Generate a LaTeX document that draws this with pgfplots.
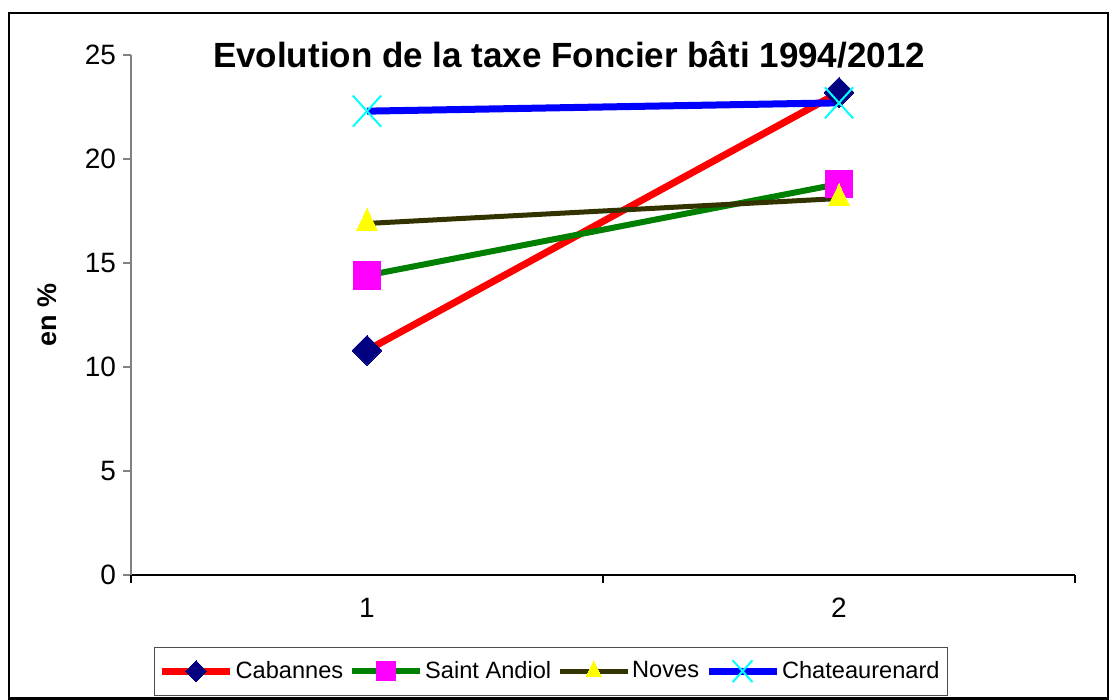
\documentclass[border=0pt]{standalone}
\usepackage{fontspec}
\setmainfont{Liberation Sans}
\usepackage{pgfplots}
\pgfplotsset{compat=1.18}

\definecolor{cabline}{RGB}{255,0,0}
\definecolor{cabmark}{RGB}{0,0,128}
\definecolor{sadline}{RGB}{0,128,0}
\definecolor{sadmark}{RGB}{255,0,255}
\definecolor{novline}{RGB}{51,51,0}
\definecolor{novmark}{RGB}{255,255,0}
\definecolor{chaline}{RGB}{0,0,255}
\definecolor{chamark}{RGB}{0,255,255}

\begin{document}
\begin{tikzpicture}[x=1pt,y=1pt]
% page = 1113x700 px at 0.5pt per px
\path (0,0) rectangle (556.5,350);
\draw[line width=1.2pt] (4.5,0.8) rectangle (554,343.5);

\begin{axis}[
  at={(65.5pt,62.5pt)}, anchor=south west,
  scale only axis, width=472pt, height=260pt,
  xmin=0.5, xmax=2.5, ymin=0, ymax=25,
  axis x line*=bottom, axis y line*=left,
  x axis line style={-, black, line width=0.6pt},
  y axis line style={-, black!50, line width=1pt},
  tick align=outside, major tick length=4pt,
  /pgf/number format/assume math mode=true,
  ticklabel style={font=\fontsize{14}{16}\selectfont},
  ytick={0,5,10,15,20,25},
  y tick style={black!50, line width=1pt},
  xtick={1,2}, x tick style={draw=none},
  extra x ticks={0.5,1.5,2.5}, extra x tick labels={},
  extra x tick style={x tick style={draw=black, line width=0.6pt}},
  xticklabel style={yshift=-4pt},
  ylabel={\textbf{en \%}},
  ylabel style={at={(axis description cs:-0.089,0.5)}, anchor=center,
    font=\fontsize{13.5}{15}\selectfont},
  title={\textbf{Evolution de la taxe Foncier bâti 1994/2012}},
  title style={at={(axis description cs:0.464,0.977)}, anchor=center,
    font=\fontsize{17.5}{20}\selectfont},
  legend columns=4,
  legend style={at={(axis description cs:0.445,-0.185)}, anchor=center,
    draw=black!70, line width=0.6pt, inner xsep=2pt, inner ysep=5pt,
    font=\fontsize{11.8}{13}\selectfont, column sep=1pt,
    /tikz/every odd column/.append style={column sep=-1pt}},
  legend image code/.code={%
    \draw[#1, mark repeat=2, mark phase=2,
      every mark/.append style={scale=0.7}]
      plot coordinates {(0pt,0pt) (17pt,0pt) (34pt,0pt)};},
]
\addplot[cabline, line width=3.5pt, mark=square*, 
  mark options={rotate=45, fill=cabmark, draw=cabmark, line width=0pt},
  mark size=5.3pt] coordinates {(1,10.8) (2,23.2)};
\addlegendentry{Cabannes}
\addplot[sadline, line width=3pt, mark=square*,
  mark options={fill=sadmark, draw=sadmark, line width=0pt},
  mark size=6.8pt] coordinates {(1,14.4) (2,18.8)};
\addlegendentry{Saint Andiol}
\addplot[novline, line width=2.5pt, mark=triangle*,
  mark options={fill=novmark, draw=novmark, line width=0pt, xscale=0.85},
  mark size=7.3pt] coordinates {(1,16.9) (2,18.1)};
\addlegendentry{Noves}
\addplot[chaline, line width=3.5pt, mark=x,
  mark options={draw=chamark, line width=1pt, yscale=1.1},
  mark size=10pt] coordinates {(1,22.3) (2,22.7)};
\addlegendentry{Chateaurenard}
\end{axis}
\end{tikzpicture}
\end{document}
